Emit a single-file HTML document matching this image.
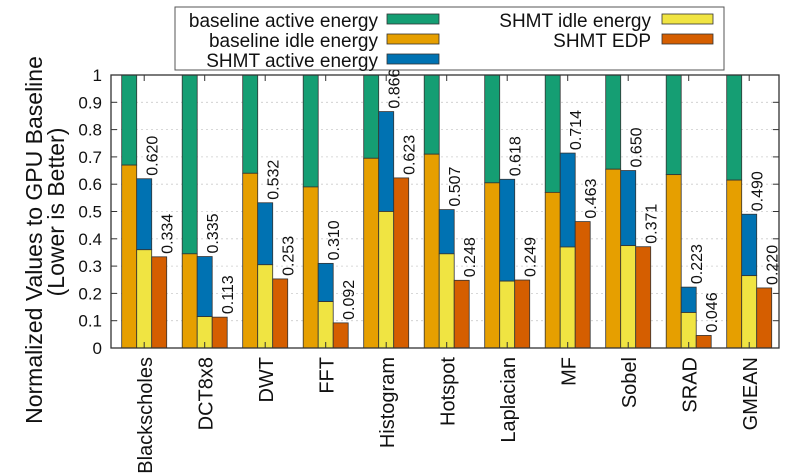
<!DOCTYPE html>
<html><head><meta charset="utf-8"><style>html,body{margin:0;padding:0;background:#fff}svg{display:block}</style></head>
<body>
<svg width="800" height="474" viewBox="0 0 800 474" xmlns="http://www.w3.org/2000/svg" font-family="Liberation Sans, sans-serif">
<rect width="800" height="474" fill="#fff"/>
<g id="grid" stroke="#ccc" stroke-width="0.8" stroke-dasharray="2,3"></g>
<g id="bars"></g>
<rect x="111" y="75" width="668" height="273" fill="none" stroke="#333" stroke-width="1.3"/>
<g id="ticks" stroke="#333" stroke-width="1"></g>
<g id="ylab" font-size="17" fill="#111" text-anchor="end"></g>
<g id="xlab" font-size="20" fill="#111" text-anchor="end"></g>
<g id="vals" font-size="16" fill="#111"></g>
<text transform="translate(42,240) rotate(-90)" font-size="23" text-anchor="middle" fill="#111">Normalized Values to GPU Baseline</text>
<text transform="translate(64,212) rotate(-90)" font-size="23" text-anchor="middle" fill="#111">(Lower is Better)</text>
<g>
<rect x="175" y="7" width="549" height="63" fill="#fff" stroke="#555" stroke-width="1"/>
<g font-size="19" fill="#111" text-anchor="end">
<text x="378" y="27">baseline active energy</text>
<text x="378" y="47">baseline idle energy</text>
<text x="378" y="67">SHMT active energy</text>
<text x="651" y="27">SHMT idle energy</text>
<text x="651" y="47">SHMT EDP</text>
</g>
<rect x="387" y="14" width="52" height="10" fill="#159e73" stroke="#333" stroke-width="0.8"/>
<rect x="387" y="34" width="52" height="10" fill="#e69f00" stroke="#333" stroke-width="0.8"/>
<rect x="387" y="54" width="52" height="10" fill="#0072b2" stroke="#333" stroke-width="0.8"/>
<rect x="662" y="14" width="51" height="10" fill="#f0e442" stroke="#333" stroke-width="0.8"/>
<rect x="662" y="34" width="51" height="10" fill="#d55e00" stroke="#333" stroke-width="0.8"/>
</g>
<script>
const ns="http://www.w3.org/2000/svg";
function el(p,t,a,txt){const e=document.createElementNS(ns,t);for(const k in a)e.setAttribute(k,a[k]);if(txt!=null)e.textContent=txt;document.getElementById(p).appendChild(e);}
const Y=v=>348-v*273;
for(let i=0;i<=10;i++){const y=Y(i/10);
 if(i>0&&i<10)el('grid','line',{x1:111,x2:779,y1:y,y2:y});
 el('ticks','line',{x1:111,x2:117,y1:y,y2:y});el('ticks','line',{x1:773,x2:779,y1:y,y2:y});
 el('ylab','text',{x:102,y:y+6},(i/10).toString());
}
const names=["Blackscholes","DCT8x8","DWT","FFT","Histogram","Hotspot","Laplacian","MF","Sobel","SRAD","GMEAN"];
const bi=[0.67,0.345,0.64,0.59,0.695,0.71,0.605,0.57,0.655,0.635,0.615];
const si=[0.36,0.115,0.305,0.17,0.50,0.345,0.245,0.37,0.375,0.13,0.265];
const sa=[0.620,0.335,0.532,0.310,0.866,0.507,0.618,0.714,0.650,0.223,0.490];
const ed=[0.334,0.113,0.253,0.092,0.623,0.248,0.249,0.463,0.371,0.046,0.220];
const S={stroke:"#333","stroke-width":0.8};
function bar(x,v0,v1,c){el('bars','rect',Object.assign({x:x,y:Y(v1),width:15,height:Y(v0)-Y(v1),fill:c},S));}
names.forEach((n,i)=>{const x=121.7+i*60.5;
 bar(x,bi[i],1,"#159e73");bar(x,0,bi[i],"#e69f00");
 bar(x+15,si[i],sa[i],"#0072b2");bar(x+15,0,si[i],"#f0e442");
 bar(x+30,0,ed[i],"#d55e00");
 const c=x+22.5;
 el('ticks','line',{x1:c,x2:c,y1:348,y2:342});el('ticks','line',{x1:c,x2:c,y1:75,y2:81});
 el('xlab','text',{transform:`translate(${c+8},357) rotate(-90)`},n);
 el('vals','text',{transform:`translate(${x+36},${Y(sa[i])-3}) rotate(-90)`},sa[i].toFixed(3));
 el('vals','text',{transform:`translate(${x+51},${Y(ed[i])-3}) rotate(-90)`},ed[i].toFixed(3));
});
</script>
</svg>
</body></html>
